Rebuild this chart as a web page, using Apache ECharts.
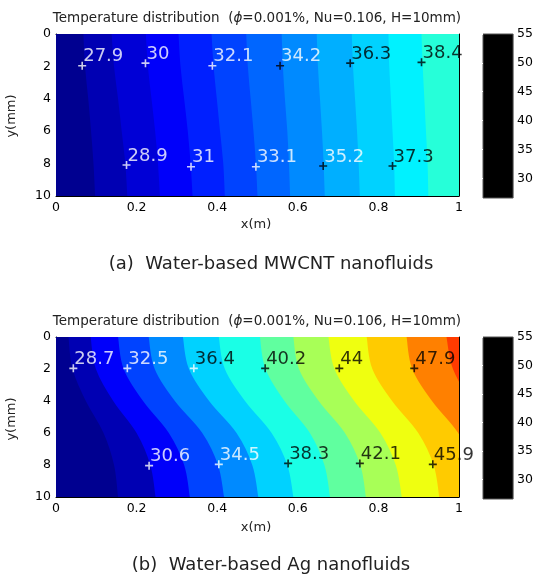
<!DOCTYPE html>
<html><head><meta charset="utf-8">
<script src="https://cdn.jsdelivr.net/npm/echarts@6/dist/echarts.min.js"></script>
<style>html,body{margin:0;padding:0;background:#fff}#c{width:536px;height:576px}</style>
</head><body><div id="c"></div>
<script>
// ---------- data ----------
const yKnots = [0, 2, 4, 6, 8, 10];               // y (mm) where contour boundaries were read
const xTickValues = [0, 0.2, 0.4, 0.6, 0.8, 1];
const xTickLabels = ['0', '0.2', '0.4', '0.6', '0.8', '1'];
const yTickValues = [0, 2, 4, 6, 8, 10];
const yTickLabels = ['0', '2', '4', '6', '8', '10'];
const cbTickValues = [30, 35, 40, 45, 50, 55];
const cbTickLabels = ['30', '35', '40', '45', '50', '55'];

// (a) MWCNT: contour boundary x positions at yKnots (left to right)
const aBoundaries = [
  [0.068, 0.072, 0.080, 0.087, 0.093, 0.097],
  [0.138, 0.144, 0.154, 0.163, 0.172, 0.177],
  [0.223, 0.228, 0.237, 0.246, 0.253, 0.258],
  [0.304, 0.309, 0.318, 0.327, 0.334, 0.339],
  [0.386, 0.391, 0.399, 0.407, 0.415, 0.419],
  [0.472, 0.476, 0.483, 0.490, 0.496, 0.500],
  [0.560, 0.563, 0.568, 0.574, 0.578, 0.581],
  [0.647, 0.650, 0.655, 0.660, 0.664, 0.667],
  [0.734, 0.737, 0.742, 0.747, 0.751, 0.754],
  [0.825, 0.827, 0.831, 0.835, 0.839, 0.841],
  [0.907, 0.910, 0.914, 0.918, 0.922, 0.924]
];
const aProbeX = [0.065, 0.222, 0.388, 0.556, 0.730, 0.907, 0.175, 0.335, 0.496, 0.663, 0.835];
const aProbeY = [1.96, 1.80, 1.96, 1.96, 1.80, 1.75, 8.09, 8.19, 8.19, 8.15, 8.15];
const aProbeT = [27.9, 30, 32.1, 34.2, 36.3, 38.4, 28.9, 31, 33.1, 35.2, 37.3];

// (b) Ag
const bBoundaries = [
  [0.031, 0.041, 0.074, 0.118, 0.144, 0.154],
  [0.086, 0.099, 0.142, 0.200, 0.234, 0.247],
  [0.154, 0.168, 0.216, 0.280, 0.318, 0.332],
  [0.230, 0.245, 0.295, 0.363, 0.402, 0.417],
  [0.315, 0.330, 0.380, 0.448, 0.487, 0.502],
  [0.404, 0.419, 0.469, 0.535, 0.574, 0.589],
  [0.506, 0.520, 0.567, 0.630, 0.666, 0.680],
  [0.589, 0.603, 0.652, 0.717, 0.755, 0.769],
  [0.676, 0.691, 0.740, 0.805, 0.843, 0.858],
  [0.771, 0.785, 0.834, 0.899, 0.937, 0.951],
  [0.870, 0.884, 0.933, 0.998, 1.036, 1.050],
  [0.969, 0.985, 1.030, 1.090, 1.130, 1.150]
];
const bProbeX = [0.043, 0.177, 0.342, 0.519, 0.703, 0.889, 0.231, 0.404, 0.576, 0.754, 0.935];
const bProbeY = [1.96, 1.96, 1.96, 1.96, 1.96, 1.96, 8.04, 7.96, 7.90, 7.90, 7.96];
const bProbeT = [28.7, 32.5, 36.4, 40.2, 44, 47.9, 30.6, 34.5, 38.3, 42.1, 45.9];

// ---------- styles ----------
const aColors = ['#000090','#0000B3','#0000D6','#0000FA','#001FFF','#0043FF','#0066FF','#008AFF','#00AFFF','#00D2FF','#00F2FF','#26FFD9'];
const bColors = ['#000090','#0000B3','#0000FA','#0043FF','#008AFF','#00D2FF','#1AFFE6','#60FF9F','#A8FF57','#EFFF10','#FFCB00','#FF8000','#FF3B00'];
const FONT = 'DejaVu Sans';

function smoothPath(pts) {
  let d = 'M' + pts[0][0] + ',' + pts[0][1];
  for (let i = 0; i < pts.length - 1; i++) {
    const p0 = pts[Math.max(i - 1, 0)], p1 = pts[i], p2 = pts[i + 1], p3 = pts[Math.min(i + 2, pts.length - 1)];
    const c1 = [p1[0] + (p2[0] - p0[0]) / 6, p1[1] + (p2[1] - p0[1]) / 6];
    const c2 = [p2[0] - (p3[0] - p1[0]) / 6, p2[1] - (p3[1] - p1[1]) / 6];
    d += ' C' + c1[0] + ',' + c1[1] + ' ' + c2[0] + ',' + c2[1] + ' ' + p2[0] + ',' + p2[1];
  }
  return d;
}

function bandSeries(axisIdx, boundaries, colors) {
  const rows = [yKnots.map(() => -0.05)].concat(boundaries);
  return {
    type: 'custom', xAxisIndex: axisIdx * 2, yAxisIndex: axisIdx * 2, clip: true, silent: true, z: 1,
    data: rows.map((r, i) => [i]),
    renderItem: function (params, api) {
      const r = rows[params.dataIndex];
      const pts = yKnots.map((y, k) => api.coord([r[k], y]));
      const br = api.coord([1.3, 10]);
      const tr = api.coord([1.3, 0]);
      let d = smoothPath(pts);
      d += ' L' + br[0] + ',' + (br[1] + 2) + ' L' + tr[0] + ',' + (tr[1] - 2) + ' L' + pts[0][0] + ',' + (pts[0][1] - 2) + ' Z';
      return { type: 'path', shape: { pathData: d }, style: { fill: colors[params.dataIndex], stroke: null } };
    }
  };
}

const CROSS = 'path://M4,0H6V4H10V6H6V10H4V6H0V4H4Z';
function probeSeries(axisIdx, xs, ys, ts, labelWhiteBelow, markerWhiteBelow) {
  return {
    type: 'scatter', xAxisIndex: axisIdx * 2, yAxisIndex: axisIdx * 2, z: 5, silent: true,
    symbol: CROSS, symbolSize: 8,
    data: xs.map((x, i) => ({
      value: [x, ys[i], ts[i]],
      itemStyle: { color: ts[i] < markerWhiteBelow ? '#fff' : '#000' },
      label: { color: ts[i] < labelWhiteBelow ? '#fff' : '#000' }
    })),
    label: {
      show: true, position: [5, 4], align: 'left', verticalAlign: 'bottom',
      fontFamily: FONT, fontSize: 18,
      formatter: p => String(p.value[2])
    }
  };
}

const grids = [], xAxes = [], yAxes = [];
const plotTops = [34, 337], plotH = [162, 160];
const tickFmtX = v => xTickLabels[xTickValues.indexOf(+v.toFixed(1))];
const tickFmtY = v => yTickLabels[yTickValues.indexOf(v)];
for (let g = 0; g < 2; g++) {
  grids.push({ left: 56, top: plotTops[g], width: 403, height: plotH[g], show: false });
}
for (let g = 0; g < 2; g++) {
  grids.push({ left: 483, top: plotTops[g], width: 35, height: plotH[g] + 2, show: true, backgroundColor: '#000', borderColor: '#555', borderWidth: 1 });
}
const axLine = { show: true, onZero: false, lineStyle: { color: '#000', width: 1 } };
for (let g = 0; g < 2; g++) {
  xAxes.push({ gridIndex: g, type: 'value', min: 0, max: 1, position: 'bottom', axisLine: axLine,
    axisTick: { inside: true, length: 3, customValues: xTickValues, lineStyle: { color: '#000' } },
    axisLabel: { customValues: xTickValues, formatter: tickFmtX, color: '#000', fontFamily: FONT, fontSize: 12.5, margin: 5 },
    splitLine: { show: false } });
  xAxes.push({ gridIndex: g, type: 'value', min: 0, max: 1, position: 'top', axisLine: axLine,
    axisTick: { inside: true, length: 3, customValues: xTickValues, lineStyle: { color: '#000' } },
    axisLabel: { show: false }, splitLine: { show: false } });
  yAxes.push({ gridIndex: g, type: 'value', min: 0, max: 10, inverse: true, position: 'left', axisLine: axLine,
    axisTick: { inside: true, length: 3, customValues: yTickValues, lineStyle: { color: '#000' } },
    axisLabel: { customValues: yTickValues, formatter: tickFmtY, color: '#000', fontFamily: FONT, fontSize: 12.5, margin: 5 },
    splitLine: { show: false } });
  yAxes.push({ gridIndex: g, type: 'value', min: 0, max: 10, inverse: true, position: 'right', axisLine: axLine,
    axisTick: { inside: true, length: 3, customValues: yTickValues, lineStyle: { color: '#000' } },
    axisLabel: { show: false }, splitLine: { show: false } });
}
for (let g = 0; g < 2; g++) {
  xAxes.push({ gridIndex: 2 + g, type: 'value', min: 0, max: 1, show: false });
  yAxes.push({ gridIndex: 2 + g, type: 'value', min: 26.6, max: 55, position: 'right',
    axisLine: { show: false },
    axisTick: { show: true, inside: true, length: 2, customValues: cbTickValues, lineStyle: { color: '#fff' } },
    axisLabel: { customValues: cbTickValues, formatter: v => cbTickLabels[cbTickValues.indexOf(v)], color: '#000', fontFamily: FONT, fontSize: 12.5, margin: 4 },
    splitLine: { show: false } });
}

function titleText(y) {
  return { type: 'text', x: 257, y: y, style: {
    text: '{n|Temperature distribution  (}{i|ϕ}{n|=0.001%, Nu=0.106, H=10mm)}',
    textAlign: 'center', textVerticalAlign: 'middle',
    rich: { n: { fontFamily: FONT, fontSize: 13.5, fill: '#222' }, i: { fontFamily: FONT, fontSize: 13.5, fontStyle: 'italic', fill: '#222' } }
  } };
}
function plainText(t, x, y, size, rot) {
  return { type: 'text', x: x, y: y, rotation: rot || 0, style: { text: t, textAlign: 'center', textVerticalAlign: 'middle', fontFamily: FONT, fontSize: size, fill: '#222' } };
}

const option = {
  animation: false,
  backgroundColor: '#fff',
  grid: grids, xAxis: xAxes, yAxis: yAxes,
  series: [
    bandSeries(0, aBoundaries, aColors),
    bandSeries(1, bBoundaries, bColors),
    probeSeries(0, aProbeX, aProbeY, aProbeT, 36, 34),
    probeSeries(1, bProbeX, bProbeY, bProbeT, 36, 37)
  ],
  graphic: [
    titleText(18), titleText(321),
    plainText('y(mm)', 12, 116, 13, Math.PI / 2),
    plainText('y(mm)', 12, 419, 13, Math.PI / 2),
    plainText('x(m)', 256, 225, 13),
    plainText('x(m)', 256, 528, 13),
    plainText('(a)  Water-based MWCNT nanofluids', 271, 264, 18),
    plainText('(b)  Water-based Ag nanofluids', 271, 565, 18)
  ]
};
echarts.init(document.getElementById('c'), null, { renderer: 'canvas' }).setOption(option);
</script></body></html>
